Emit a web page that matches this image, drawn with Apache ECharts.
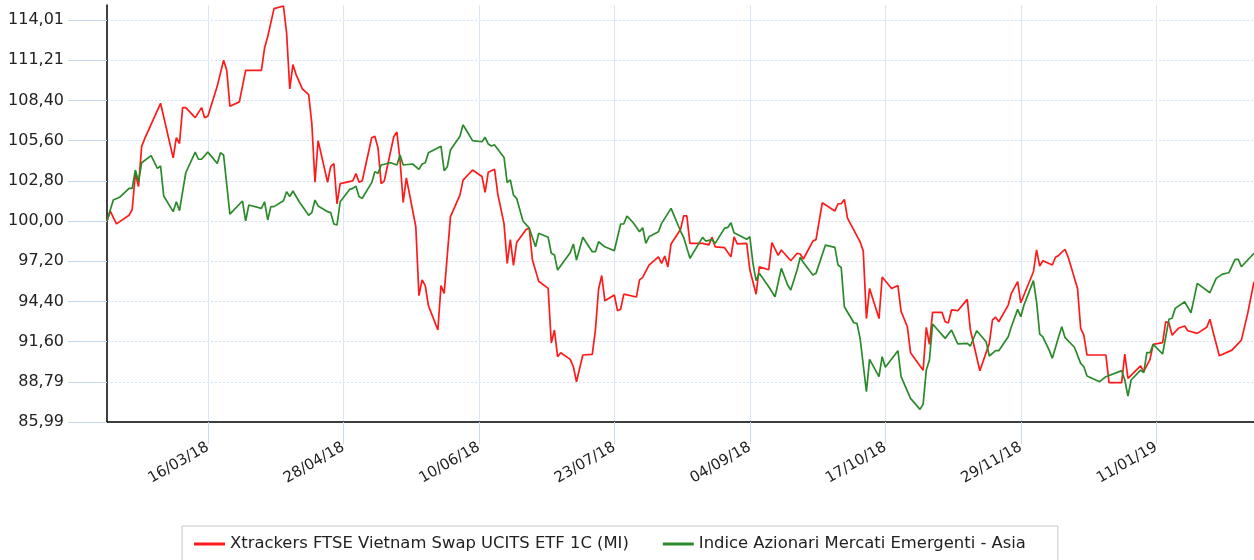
<!DOCTYPE html>
<html>
<head>
<meta charset="utf-8">
<script src="https://cdn.jsdelivr.net/npm/echarts@6/dist/echarts.min.js"></script>
<style>
html,body{margin:0;padding:0;background:#fff;}
#chart{width:1254px;height:560px;}
</style>
</head>
<body>
<div id="chart"></div>
<script>
const seriesNames = ['Xtrackers FTSE Vietnam Swap UCITS ETF 1C (MI)', 'Indice Azionari Mercati Emergenti - Asia'];

const vietnamEtf = [
['2018-02-12',100.0],['2018-02-13',100.7],['2018-02-15',99.8],['2018-02-19',100.4],['2018-02-20',100.8],
['2018-02-21',103.3],['2018-02-22',102.4],['2018-02-23',105.2],['2018-02-24',105.76],['2018-03-01',108.2],
['2018-03-05',104.4],['2018-03-06',105.8],['2018-03-07',105.4],['2018-03-08',107.9],['2018-03-09',107.9],
['2018-03-12',107.2],['2018-03-14',107.9],['2018-03-15',107.2],['2018-03-16',107.3],['2018-03-19',109.4],
['2018-03-21',111.2],['2018-03-22',110.5],['2018-03-23',108.0],['2018-03-26',108.3],['2018-03-28',110.5],
['2018-04-02',110.5],['2018-04-03',112.05],['2018-04-04',112.84],['2018-04-06',114.8],['2018-04-09',114.98],
['2018-04-10',113.1],['2018-04-11',109.2],['2018-04-12',110.9],['2018-04-13',110.2],['2018-04-15',109.2],
['2018-04-17',108.8],['2018-04-18',106.8],['2018-04-19',102.7],['2018-04-20',105.6],['2018-04-23',102.7],
['2018-04-24',103.8],['2018-04-25',104.0],['2018-04-26',101.2],['2018-04-27',102.6],['2018-05-01',102.8],
['2018-05-02',103.3],['2018-05-03',102.7],['2018-05-04',102.8],['2018-05-07',105.8],['2018-05-08',105.9],
['2018-05-09',105.1],['2018-05-10',102.6],['2018-05-11',102.8],['2018-05-14',105.87],['2018-05-15',106.2],
['2018-05-16',104.2],['2018-05-17',101.3],['2018-05-18',103.0],['2018-05-21',99.6],['2018-05-22',94.8],
['2018-05-23',95.9],['2018-05-24',95.5],['2018-05-25',94.1],['2018-05-28',92.4],['2018-05-29',95.5],
['2018-05-30',94.96],['2018-06-01',100.3],['2018-06-04',101.8],['2018-06-05',102.85],['2018-06-08',103.55],
['2018-06-11',103.1],['2018-06-12',102.0],['2018-06-13',103.4],['2018-06-15',103.6],['2018-06-16',101.9],
['2018-06-18',99.8],['2018-06-19',97.05],['2018-06-20',98.7],['2018-06-21',96.9],['2018-06-22',98.5],
['2018-06-25',99.4],['2018-06-26',99.5],['2018-06-27',97.3],['2018-06-29',95.8],['2018-07-02',95.3],
['2018-07-03',91.5],['2018-07-04',92.4],['2018-07-05',90.54],['2018-07-06',90.82],['2018-07-09',90.36],
['2018-07-10',89.84],['2018-07-11',88.8],['2018-07-13',90.66],['2018-07-16',90.7],['2018-07-17',92.4],
['2018-07-18',95.24],['2018-07-19',96.2],['2018-07-20',94.44],['2018-07-23',94.84],['2018-07-24',93.75],
['2018-07-25',93.85],['2018-07-26',94.9],['2018-07-30',94.7],['2018-07-31',95.9],['2018-08-01',96.07],
['2018-08-03',96.93],['2018-08-06',97.5],['2018-08-07',97.05],['2018-08-08',97.56],['2018-08-09',96.8],
['2018-08-10',98.4],['2018-08-13',99.4],['2018-08-14',100.35],['2018-08-15',100.35],['2018-08-16',98.44],
['2018-08-20',98.44],['2018-08-22',98.33],['2018-08-23',98.86],['2018-08-24',98.2],['2018-08-27',98.14],
['2018-08-29',97.5],['2018-08-30',98.9],['2018-08-31',98.4],['2018-09-03',98.44],['2018-09-04',96.6],
['2018-09-06',94.9],['2018-09-07',96.8],['2018-09-10',96.6],['2018-09-11',98.5],['2018-09-13',97.6],
['2018-09-14',97.98],['2018-09-17',97.23],['2018-09-19',97.75],['2018-09-20',97.7],['2018-09-21',97.35],
['2018-09-24',98.6],['2018-09-25',98.7],['2018-09-27',101.27],['2018-10-01',100.7],['2018-10-02',101.2],
['2018-10-03',101.2],['2018-10-04',101.5],['2018-10-05',100.2],['2018-10-09',98.55],['2018-10-10',97.9],
['2018-10-11',93.2],['2018-10-12',95.3],['2018-10-15',93.2],['2018-10-16',96.1],['2018-10-19',95.3],
['2018-10-21',95.5],['2018-10-22',93.7],['2018-10-24',92.63],['2018-10-25',90.82],['2018-10-29',89.6],
['2018-10-30',92.59],['2018-10-31',91.4],['2018-11-01',93.63],['2018-11-04',93.63],['2018-11-05',92.98],
['2018-11-06',92.9],['2018-11-07',93.8],['2018-11-09',93.75],['2018-11-12',94.54],['2018-11-13',92.4],
['2018-11-16',89.56],['2018-11-19',91.47],['2018-11-20',93.1],['2018-11-21',93.3],['2018-11-22',92.98],
['2018-11-25',94.14],['2018-11-26',94.96],['2018-11-28',95.77],['2018-11-29',94.3],['2018-12-03',96.46],
['2018-12-04',97.98],['2018-12-05',96.86],['2018-12-06',97.23],['2018-12-09',96.93],['2018-12-10',97.47],
['2018-12-11',97.6],['2018-12-13',98.03],['2018-12-14',97.5],['2018-12-17',95.3],['2018-12-18',92.52],
['2018-12-19',92.05],['2018-12-20',90.66],['2018-12-26',90.66],['2018-12-27',88.73],['2018-12-31',88.73],
['2019-01-01',90.73],['2019-01-02',89.03],['2019-01-06',89.91],['2019-01-07',89.5],['2019-01-09',90.36],
['2019-01-10',91.4],['2019-01-13',91.52],['2019-01-14',92.98],['2019-01-15',92.9],['2019-01-16',92.05],
['2019-01-18',92.52],['2019-01-20',92.68],['2019-01-21',92.35],['2019-01-24',92.17],['2019-01-27',92.59],
['2019-01-28',93.15],['2019-01-29',92.28],['2019-01-31',90.61],['2019-02-04',91.0],['2019-02-07',91.7],
['2019-02-09',93.56],['2019-02-11',95.77]
];

const asiaIndex = [
['2018-02-12',100.0],['2018-02-14',101.46],['2018-02-16',101.65],['2018-02-19',102.27],['2018-02-20',102.27],
['2018-02-21',103.55],['2018-02-22',102.74],['2018-02-23',104.06],['2018-02-26',104.55],['2018-02-28',103.67],
['2018-03-01',103.83],['2018-03-02',101.74],['2018-03-05',100.65],['2018-03-06',101.34],['2018-03-07',100.72],
['2018-03-09',103.36],['2018-03-12',104.8],['2018-03-13',104.3],['2018-03-14',104.3],['2018-03-16',104.8],
['2018-03-19',104.0],['2018-03-20',104.76],['2018-03-21',104.6],['2018-03-23',100.48],['2018-03-27',101.39],
['2018-03-28',100.0],['2018-03-29',101.11],['2018-04-02',100.88],['2018-04-03',101.34],['2018-04-04',100.07],
['2018-04-05',101.0],['2018-04-06',101.0],['2018-04-09',101.41],['2018-04-10',102.04],['2018-04-11',101.7],
['2018-04-12',102.09],['2018-04-14',101.34],['2018-04-17',100.4],['2018-04-18',100.58],['2018-04-19',101.46],
['2018-04-20',101.05],['2018-04-23',100.65],['2018-04-24',100.58],['2018-04-25',99.79],['2018-04-26',99.72],
['2018-04-27',101.34],['2018-04-30',102.2],['2018-05-01',102.27],['2018-05-02',102.43],['2018-05-03',101.69],
['2018-05-04',101.58],['2018-05-07',102.67],['2018-05-08',103.43],['2018-05-09',103.32],['2018-05-10',103.9],
['2018-05-13',104.06],['2018-05-15',103.9],['2018-05-16',104.6],['2018-05-17',103.9],['2018-05-20',103.97],
['2018-05-22',103.6],['2018-05-23',103.97],['2018-05-24',104.06],['2018-05-25',104.76],['2018-05-29',105.2],
['2018-05-30',103.5],['2018-05-31',103.78],['2018-06-01',104.95],['2018-06-04',105.9],['2018-06-05',106.7],
['2018-06-06',106.34],['2018-06-08',105.6],['2018-06-11',105.52],['2018-06-12',105.83],['2018-06-13',105.36],
['2018-06-14',105.22],['2018-06-15',105.3],['2018-06-18',104.43],['2018-06-19',102.67],['2018-06-20',102.86],
['2018-06-21',101.8],['2018-06-22',101.58],['2018-06-24',100.0],['2018-06-26',99.5],['2018-06-28',98.2],
['2018-06-29',99.14],['2018-07-02',98.86],['2018-07-03',97.75],['2018-07-04',97.63],['2018-07-05',96.58],
['2018-07-09',97.79],['2018-07-10',98.4],['2018-07-11',97.28],['2018-07-13',98.86],['2018-07-16',97.86],
['2018-07-17',97.86],['2018-07-18',98.55],['2018-07-20',98.2],['2018-07-23',97.93],['2018-07-25',99.79],
['2018-07-26',99.79],['2018-07-27',100.35],['2018-07-29',99.88],['2018-07-31',99.25],['2018-08-01',99.53],
['2018-08-02',98.44],['2018-08-03',98.9],['2018-08-06',99.25],['2018-08-07',99.83],['2018-08-10',100.88],
['2018-08-13',99.3],['2018-08-14',98.86],['2018-08-16',97.4],['2018-08-20',98.86],['2018-08-21',98.6],
['2018-08-23',98.7],['2018-08-24',98.44],['2018-08-27',99.5],['2018-08-28',99.55],['2018-08-29',99.88],
['2018-08-30',99.18],['2018-09-03',98.72],['2018-09-04',98.9],['2018-09-05',97.05],['2018-09-06',95.84],
['2018-09-07',96.35],['2018-09-10',95.42],['2018-09-12',94.72],['2018-09-14',96.7],['2018-09-16',95.54],
['2018-09-17',95.19],['2018-09-19',96.58],['2018-09-20',97.47],['2018-09-21',97.1],['2018-09-24',96.23],
['2018-09-25',96.35],['2018-09-28',98.32],['2018-10-01',98.16],['2018-10-02',96.93],['2018-10-03',96.77],
['2018-10-04',94.02],['2018-10-07',92.91],['2018-10-08',92.87],['2018-10-09',91.82],['2018-10-11',88.1],
['2018-10-12',90.36],['2018-10-15',89.15],['2018-10-16',90.54],['2018-10-17',89.8],['2018-10-21',90.96],
['2018-10-22',89.15],['2018-10-25',87.64],['2018-10-28',86.87],['2018-10-29',87.24],['2018-10-30',89.61],
['2018-10-31',90.31],['2018-11-01',92.82],['2018-11-05',91.82],['2018-11-07',92.4],['2018-11-09',91.43],
['2018-11-12',91.47],['2018-11-13',91.29],['2018-11-15',92.35],['2018-11-18',91.58],['2018-11-19',90.59],
['2018-11-21',90.96],['2018-11-22',90.96],['2018-11-25',91.93],['2018-11-26',92.63],['2018-11-28',93.84],
['2018-11-29',93.33],['2018-11-30',94.14],['2018-12-03',95.84],['2018-12-04',94.37],['2018-12-05',92.12],
['2018-12-06',91.93],['2018-12-08',91.0],['2018-12-09',90.43],['2018-12-11',91.93],['2018-12-12',92.63],
['2018-12-13',91.89],['2018-12-16',91.2],['2018-12-18',90.08],['2018-12-19',89.84],['2018-12-20',89.2],
['2018-12-24',88.8],['2018-12-26',89.15],['2018-12-31',89.57],['2019-01-01',88.92],['2019-01-02',87.8],
['2019-01-03',88.92],['2019-01-06',89.61],['2019-01-07',89.43],['2019-01-08',90.82],['2019-01-09',90.82],
['2019-01-10',91.4],['2019-01-13',90.73],['2019-01-15',93.15],['2019-01-16',93.22],['2019-01-17',93.91],
['2019-01-20',94.37],['2019-01-22',93.6],['2019-01-24',95.65],['2019-01-28',95.0],['2019-01-30',96.0],
['2019-02-01',96.3],['2019-02-03',96.39],['2019-02-05',97.33],['2019-02-06',97.33],['2019-02-07',96.81],
['2019-02-11',97.75]
];

const xTickDates = ['2018-03-16','2018-04-28','2018-06-10','2018-07-23','2018-09-04','2018-10-17','2018-11-29','2019-01-11'];
const yTickValues = [85.9925, 88.794, 91.5955, 94.397, 97.1985, 100.0, 102.8015, 105.603, 108.4045, 111.206, 114.0075];
const yTickLabels = ['85,99','88,79','91,60','94,40','97,20','100,00','102,80','105,60','108,40','111,21','114,01'];
const xStart = '2018-02-12';
const xEnd = '2019-02-11';
const yMin = 85.9925;
const yMax = 115.05;

function ts(s) {
  const p = s.split('-').map(Number);
  return new Date(p[0], p[1] - 1, p[2]).getTime();
}
function pad(n) { return (n < 10 ? '0' : '') + n; }
function fmtDate(v) {
  const d = new Date(v);
  return pad(d.getDate()) + '/' + pad(d.getMonth() + 1) + '/' + String(d.getFullYear()).slice(2);
}
function fmtY(v) {
  for (let i = 0; i < yTickValues.length; i++) {
    if (Math.abs(v - yTickValues[i]) < 1e-6) return yTickLabels[i];
  }
  return '';
}

const FONT = 'DejaVu Sans';
const xTicks = xTickDates.map(ts);
const chart = echarts.init(document.getElementById('chart'), null, {renderer: 'canvas'});

chart.setOption({
  animation: false,
  backgroundColor: '#fff',
  grid: {left: 107, right: 0, top: 5, bottom: 138, containLabel: false},
  xAxis: {
    type: 'value',
    min: ts(xStart),
    max: ts(xEnd),
    axisLine: {show: true, lineStyle: {color: '#000', width: 1.5}},
    axisTick: {show: true, length: 22, customValues: xTicks, lineStyle: {color: '#c6daf1', width: 1}},
    axisLabel: {customValues: xTicks, rotate: 30, margin: 24, fontSize: 15, color: '#222', fontFamily: FONT, formatter: fmtDate},
    splitLine: {show: true, lineStyle: {color: '#d8e6f5', width: 1}}
  },
  yAxis: {
    type: 'value',
    min: yMin,
    max: yMax,
    axisLine: {show: true, lineStyle: {color: '#000', width: 1.5}},
    axisTick: {show: true, length: 39, customValues: yTickValues, lineStyle: {color: '#c2d8f0', width: 1}},
    axisLabel: {customValues: yTickValues, margin: 43, fontSize: 16, color: '#222', fontFamily: FONT, formatter: fmtY},
    splitLine: {show: true, lineStyle: {color: '#cfe0f3', width: 1, type: [2, 2]}}
  },
  legend: {
    left: 182,
    top: 526,
    icon: 'rect',
    itemWidth: 31,
    itemHeight: 3,
    itemGap: 34,
    itemTextGap: 7,
    padding: [10, 32, 14, 12],
    borderColor: '#c8c8c8',
    borderWidth: 1,
    textStyle: {fontSize: 16.4, color: '#222', fontFamily: FONT},
    data: seriesNames
  },
  series: [
    {
      name: seriesNames[0],
      type: 'line',
      data: vietnamEtf.map(p => [ts(p[0]), p[1]]),
      symbol: 'none',
      showSymbol: false,
      color: '#ff1a1a',
      lineStyle: {color: '#ff1a1a', width: 1.7}
    },
    {
      name: seriesNames[1],
      type: 'line',
      data: asiaIndex.map(p => [ts(p[0]), p[1]]),
      symbol: 'none',
      showSymbol: false,
      color: '#2a8a2a',
      lineStyle: {color: '#2a8a2a', width: 1.7}
    }
  ]
});
</script>
</body>
</html>
